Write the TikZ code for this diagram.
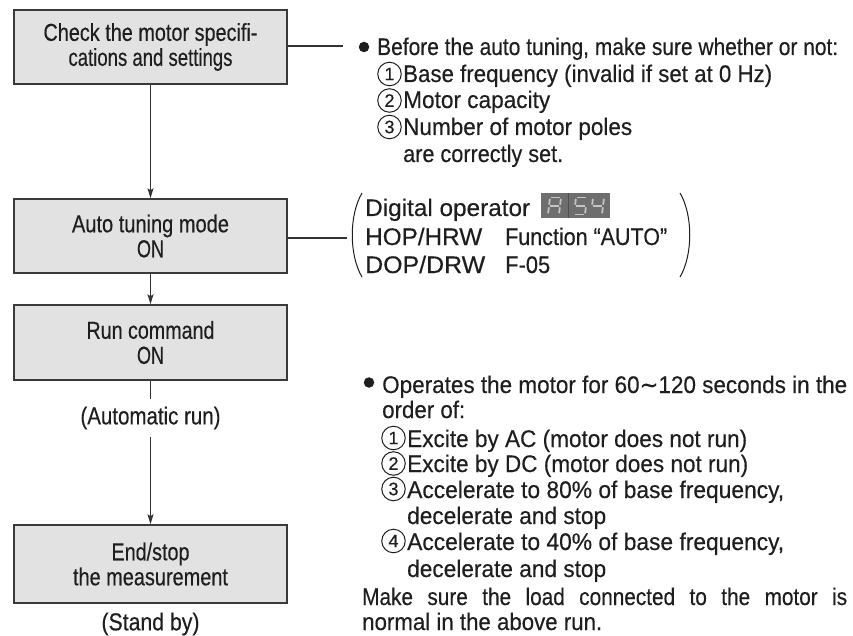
\documentclass[tikz,border=0pt]{standalone}
\usepackage{fontspec}
\usepackage{graphicx}
\setmainfont[FakeBold=0.35]{Liberation Sans}
\newfontfamily\dvs[FakeBold=0.35]{DejaVu Sans}
\usetikzlibrary{arrows.meta}
\definecolor{txtcol}{HTML}{1E1E1E}
\definecolor{linecol}{HTML}{333333}
\definecolor{boxfill}{HTML}{E2E2E2}
\definecolor{boxline}{HTML}{3A3A3A}
\definecolor{dispbg}{HTML}{6E6E6E}
\definecolor{segcol}{HTML}{C4C4C4}
\newcommand{\W}[2]{\resizebox{#1pt}{\height}{#2}}
\tikzset{
  stepbox/.style={draw=boxline, line width=1.5pt, fill=boxfill, minimum width=273pt,
    inner sep=0pt, align=center, text=txtcol, font=\fontsize{24.5}{25}\selectfont},
  conn/.style={draw=linecol, line width=1.2pt, -{Stealth[length=10pt,width=6pt,inset=2pt]}},
  plain/.style={draw=linecol, line width=1.2pt},
  txt/.style={anchor=base west, inner sep=0pt, text=txtcol, font=\fontsize{24}{26}\selectfont},
  ctxt/.style={inner sep=0pt, text=txtcol, font=\fontsize{24.5}{25}\selectfont},
  cnum/.style={circle, draw=txtcol, line width=1pt, minimum size=23.5pt, inner sep=0pt,
    text=txtcol, font=\fontsize{18}{18}\selectfont},
  bul/.style={circle, fill=txtcol, minimum size=10.5pt, inner sep=0pt},
  paren/.style={draw=txtcol, line width=1pt},
  seg/.style={draw=segcol, line width=1.8pt, shorten <=1.3pt, shorten >=1.3pt},
}
\begin{document}
\begin{tikzpicture}[x=1pt,y=-1pt]
\useasboundingbox (0,0) rectangle (853,636);
% flow boxes
\node[stepbox, minimum height=74pt] (b1) at (150.5,47) {\W{214}{Check the motor specifi-}\\\W{164}{cations and settings}};
\node[stepbox, minimum height=74pt] (b2) at (150.5,236) {\W{157}{Auto tuning mode}\\\W{27}{ON}};
\node[stepbox, minimum height=75pt] (b3) at (150.5,342.5) {\W{128}{Run command}\\\W{27}{ON}};
\node[stepbox, minimum height=78pt] (b4) at (150.5,564) {\W{78}{End/stop}\\\W{155}{the measurement}};
\node[ctxt, minimum height=37pt] (auto) at (150.5,418) {\W{140}{(Automatic run)}};
\node[ctxt] (stand) at (150.5,624) {\W{98}{(Stand by)}};
% connectors
\draw[conn] (b1.south) -- (b2.north);
\draw[conn] (b2.south) -- (b3.north);
\draw[plain] (b3.south) -- (auto.north);
\draw[conn] (auto.south) -- (b4.north);
\coordinate (c1) at (343,46);
\coordinate (c2) at (347,238);
\draw[plain] (b1.east |- c1) -- (c1);
\draw[plain] (b2.east |- c2) -- (c2);
% block 1
\node[bul] (k1) at (364,47) {};
\node[txt] (a1) at (377,55) {\W{461}{Before the auto tuning, make sure whether or not:}};
\node[cnum] (n11) at (389.5,74) {1};
\node[txt] (a2) at (403,82) {\W{369}{Base frequency (invalid if set at 0 Hz)}};
\node[cnum] (n12) at (389.5,100.5) {2};
\node[txt] (a3) at (403,108) {\W{147}{Motor capacity}};
\node[cnum] (n13) at (389.5,127) {3};
\node[txt] (a4) at (403,135) {\W{229}{Number of motor poles}};
\node[txt] (a5) at (403,162) {\W{160}{are correctly set.}};
% block 2
\draw[paren] (362,193) .. controls (349,215) and (349,255) .. (362,277);
\draw[paren] (680,193) .. controls (693,215) and (693,255) .. (680,277);
\node[txt] (d1) at (365,216) {\W{165}{Digital operator}};
\node[txt] (d2) at (365,245) {\W{117}{HOP/HRW}};
\node[txt] (d3) at (505,245) {\W{162}{Function “AUTO”}};
\node[txt] (d4) at (365,273) {\W{120}{DOP/DRW}};
\node[txt] (d5) at (505,273) {\W{45}{F-05}};
% display
\fill[dispbg] (541,193) rectangle (610,218);
\draw[dispbg!70!black, line width=0.8pt] (568.5,193) -- (568.5,218);
\begin{scope}[shift={(550,197.5)}, xslant=0.12]
  \draw[seg] (0,0) -- (11,0); \draw[seg] (11,0) -- (11,8.5); \draw[seg] (11,8.5) -- (11,17);
  \draw[seg] (0,8.5) -- (0,17); \draw[seg] (0,0) -- (0,8.5); \draw[seg] (0,8.5) -- (11,8.5);
\end{scope}
\begin{scope}[shift={(576,197.5)}, xslant=0.12]
  \draw[seg] (0,0) -- (11,0); \draw[seg] (0,0) -- (0,8.5); \draw[seg] (0,8.5) -- (11,8.5);
  \draw[seg] (11,8.5) -- (11,17); \draw[seg] (0,17) -- (11,17);
\end{scope}
\begin{scope}[shift={(593,197.5)}, xslant=0.12]
  \draw[seg] (0,0) -- (0,8.5); \draw[seg] (0,8.5) -- (11,8.5);
  \draw[seg] (11,0) -- (11,8.5); \draw[seg] (11,8.5) -- (11,17);
\end{scope}
% block 3
\node[bul] (k3) at (369,382.5) {};
\node[txt] (o1) at (382,393) {\W{465}{Operates the motor for 60{\dvs ∼}120 seconds in the}};
\node[txt] (o2) at (382,418) {\W{83}{order of:}};
\node[cnum] (n31) at (393.5,438) {1};
\node[txt] (o3) at (407,447) {\W{340}{Excite by AC (motor does not run)}};
\node[cnum] (n32) at (393.5,463.5) {2};
\node[txt] (o4) at (407,472) {\W{341}{Excite by DC (motor does not run)}};
\node[cnum] (n33) at (393.5,489) {3};
\node[txt] (o5) at (407,498) {\W{377}{Accelerate to 80\% of base frequency,}};
\node[txt] (o6) at (407,524) {\W{199}{decelerate and stop}};
\node[cnum] (n34) at (393.5,541) {4};
\node[txt] (o7) at (407,550) {\W{377}{Accelerate to 40\% of base frequency,}};
\node[txt] (o8) at (407,577) {\W{199}{decelerate and stop}};
\node[txt] (o9) at (362,605) {\W{485}{\makebox[560pt][s]{Make sure the load connected to the motor is}}};
\node[txt] (o10) at (362,630) {\W{240}{normal in the above run.}};
\end{tikzpicture}
\end{document}
